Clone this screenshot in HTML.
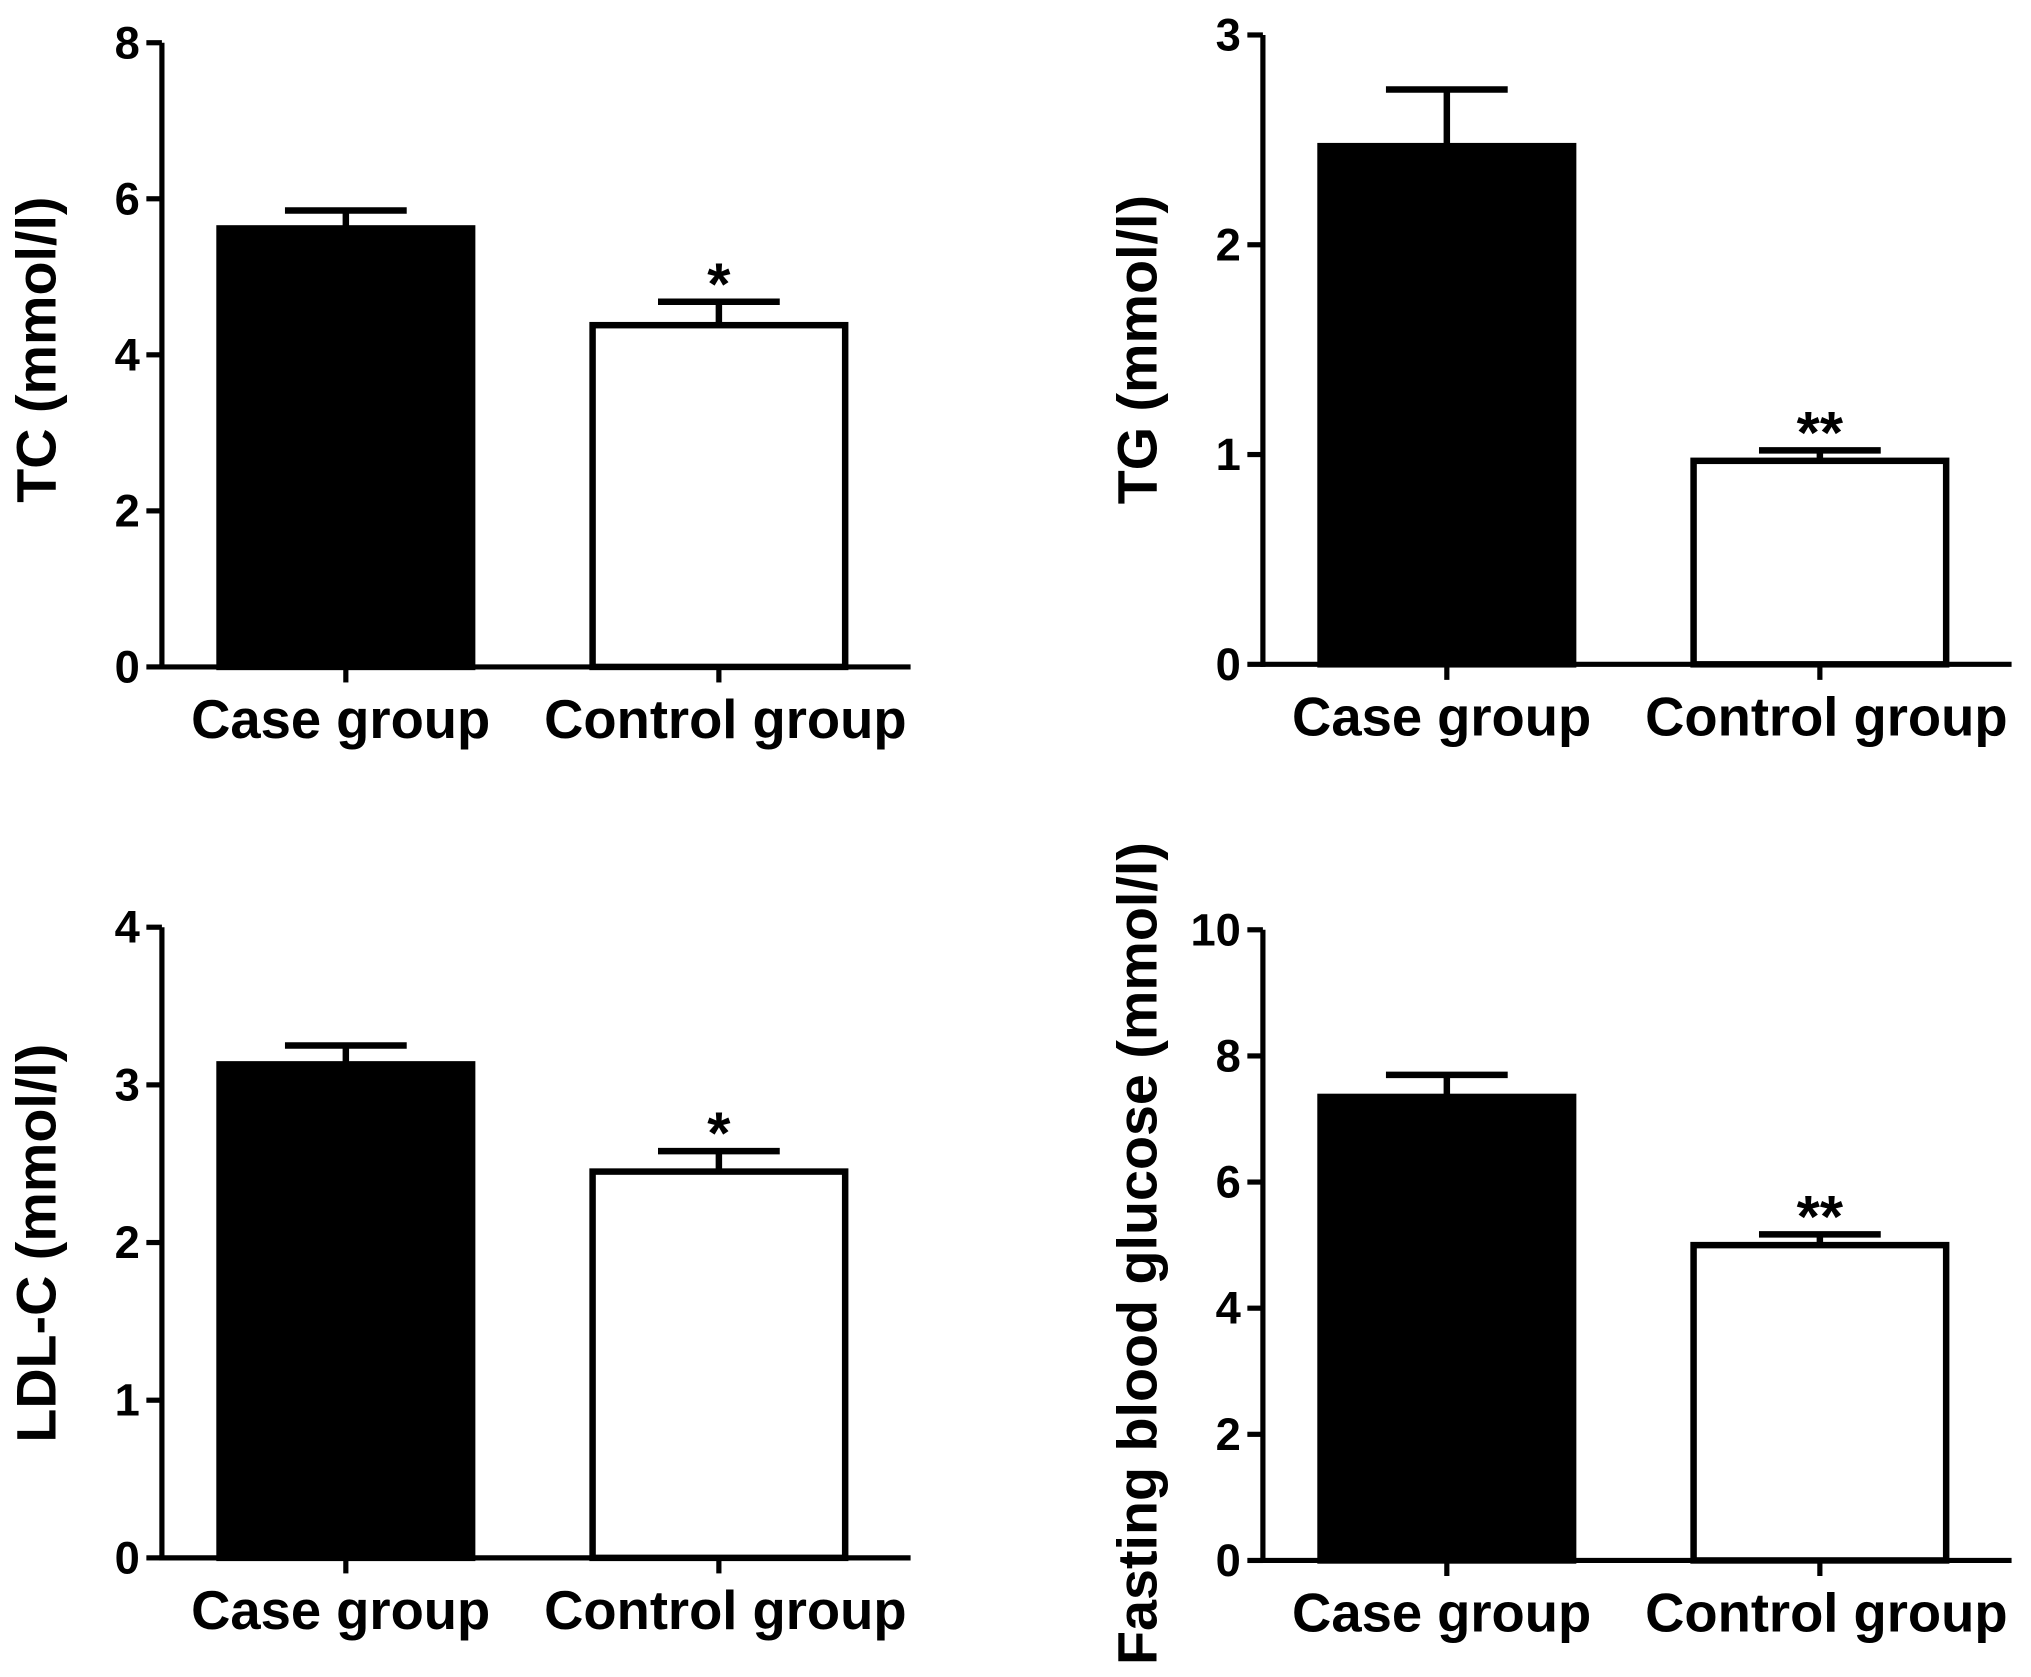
<!DOCTYPE html>
<html><head><meta charset="utf-8"><style>
html,body{margin:0;padding:0;background:#fff;}
svg{display:block;}
text{font-family:"Liberation Sans",Arial,sans-serif;font-weight:bold;fill:#000;}
</style></head><body>
<svg id="fig" width="2031" height="1677" viewBox="0 0 1568 1295" preserveAspectRatio="none" xmlns="http://www.w3.org/2000/svg"></svg>
<script>
const categories = ["Case group", "Control group"];
const tcValues = [5.62, 4.38];
const tcErrors = [0.23, 0.30];
const tgValues = [2.47, 0.97];
const tgErrors = [0.27, 0.05];
const ldlValues = [3.13, 2.45];
const ldlErrors = [0.12, 0.13];
const fbgValues = [7.35, 5.0];
const fbgErrors = [0.35, 0.17];
const tcTicks = [0, 2, 4, 6, 8];
const tgTicks = [0, 1, 2, 3];
const ldlTicks = [0, 1, 2, 3, 4];
const fbgTicks = [0, 2, 4, 6, 8, 10];
const tcStars = ["", "*"];
const tgStars = ["", "**"];
const ldlStars = ["", "*"];
const fbgStars = ["", "**"];

const NS = "http://www.w3.org/2000/svg";
const svg = document.getElementById("fig");
function mk(tag, attrs, parent) {
  const e = document.createElementNS(NS, tag);
  for (const k in attrs) e.setAttribute(k, attrs[k]);
  (parent || svg).appendChild(e);
  return e;
}
function panel(cfg) {
  const g = mk("g", {});
  
  
  const max = cfg.ticks[cfg.ticks.length - 1];
  const y = v => cfg.y0 - (v / max) * (cfg.y0 - cfg.yTop);
  const ax = mk("line", {x1: cfg.x0, y1: cfg.yTop, x2: cfg.x0, y2: cfg.y0 + 2, stroke: "#000", "stroke-width": 4}, g);
  
  
  const xa = mk("line", {x1: cfg.x0 - 2, y1: cfg.y0, x2: cfg.x0 + 578, y2: cfg.y0, stroke: "#000", "stroke-width": 4}, g);
  
  
  cfg.ticks.forEach(t => {
    mk("line", {x1: cfg.x0 - 12, y1: y(t), x2: cfg.x0, y2: y(t), stroke: "#000", "stroke-width": 4}, g);
    const tl = mk("text", {x: cfg.x0 - 17, y: y(t) + 12, "font-size": 35, "text-anchor": "end"}, g);
    tl.textContent = t;
    
    
  });
  const barW = 195;
  const centers = [cfg.x0 + 142, cfg.x0 + 430];
  categories.forEach((c, i) => {
    const cx = centers[i];
    const top = y(cfg.values[i]);
    const et = y(cfg.values[i] + cfg.errors[i]);
    const el = mk("line", {x1: cx, y1: top, x2: cx, y2: et, stroke: "#000", "stroke-width": 5}, g);
    
    
    mk("line", {x1: cx - 47, y1: et, x2: cx + 47, y2: et, stroke: "#000", "stroke-width": 5}, g);
    const b = mk("rect", {x: cx - barW / 2, y: top, width: barW, height: cfg.y0 - top, fill: i === 0 ? "#000" : "#fff", stroke: "#000", "stroke-width": 5}, g);
    
    
    mk("line", {x1: cx, y1: cfg.y0, x2: cx, y2: cfg.y0 + 12, stroke: "#000", "stroke-width": 4}, g);
    const lbl = mk("text", {x: cx + (i === 0 ? -4 : 5), y: cfg.y0 + 55, "font-size": 42, "text-anchor": "middle"}, g);
    lbl.textContent = c;
    
    
    if (cfg.stars[i]) {
      const s = mk("text", {x: cx, y: et + 2, "font-size": 46, "text-anchor": "middle"}, g);
      s.textContent = cfg.stars[i];
      
      
    }
  });
  const yl = mk("text", {x: 0, y: 0, "font-size": 43, "text-anchor": "middle", transform: `translate(${cfg.x0 - 82},${cfg.labelY}) rotate(-90)`}, g);
  yl.textContent = cfg.label;
  
  
}
panel({name: "tc-panel", x0: 125, yTop: 33, y0: 515, ticks: tcTicks, values: tcValues, errors: tcErrors, stars: tcStars, label: "TC (mmol/l)", labelY: 270});
panel({name: "tg-panel", x0: 975, yTop: 27, y0: 513, ticks: tgTicks, values: tgValues, errors: tgErrors, stars: tgStars, label: "TG (mmol/l)", labelY: 270});
panel({name: "ldl-panel", x0: 125, yTop: 716, y0: 1203, ticks: ldlTicks, values: ldlValues, errors: ldlErrors, stars: ldlStars, label: "LDL-C (mmol/l)", labelY: 960});
panel({name: "fbg-panel", x0: 975, yTop: 718, y0: 1205, ticks: fbgTicks, values: fbgValues, errors: fbgErrors, stars: fbgStars, label: "Fasting blood glucose (mmol/l)", labelY: 968});
</script>
</body></html>
